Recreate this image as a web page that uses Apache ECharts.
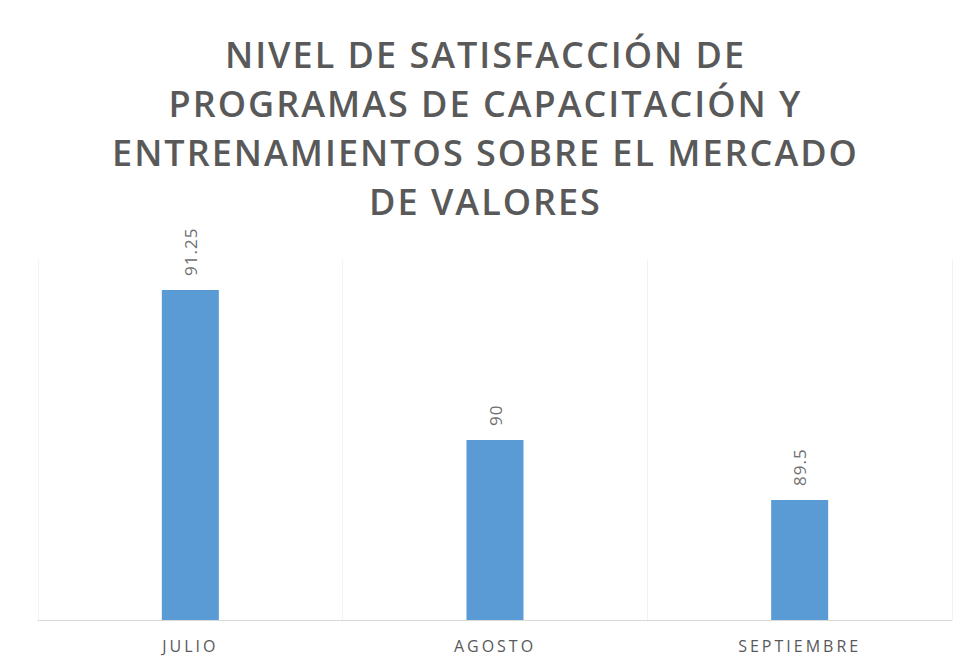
<!DOCTYPE html>
<html>
<head>
<meta charset="utf-8">
<script src="https://cdn.jsdelivr.net/npm/echarts@6/dist/echarts.min.js"></script>
<style>
html,body{margin:0;padding:0;background:#fff;}
#main{width:971px;height:671px;}
/* espaciado de letras como en el original */
#main text{letter-spacing:3px;}
#main text[style*="36px"]{letter-spacing:2px;}
#main text[style*="17px"]{letter-spacing:1px;}
</style>
</head>
<body>
<div id="main"></div>
<script>
// datos del gráfico
var meses = ['JULIO', 'AGOSTO', 'SEPTIEMBRE'];
var satisfaccion = [91.25, 90, 89.5];
var titulo = 'NIVEL DE SATISFACCIÓN DE\nPROGRAMAS DE CAPACITACIÓN Y\nENTRENAMIENTOS SOBRE EL MERCADO\nDE VALORES';

var myChart = echarts.init(document.getElementById('main'), null, {renderer: 'svg'});
var option = {
    backgroundColor: '#fff',
    title: {
        text: titulo,
        left: 'center',
        top: 25,
        textStyle: {
            fontFamily: 'Open Sans',
            fontWeight: 600,
            fontSize: 36,
            lineHeight: 49,
            color: '#595959'
        }
    },
    grid: {
        left: 38,
        right: 19,
        top: 260,
        bottom: 51
    },
    xAxis: {
        type: 'category',
        data: meses,
        axisLine: {lineStyle: {color: '#d9d9d9', width: 1}},
        axisTick: {show: false},
        axisLabel: {
            color: '#595959',
            fontFamily: 'Open Sans',
            fontSize: 16,
            margin: 18
        },
        splitLine: {show: true, lineStyle: {color: '#f2f2f2'}}
    },
    yAxis: {
        type: 'value',
        min: 88.5,
        max: 91.5,
        show: false
    },
    series: [{
        type: 'bar',
        data: satisfaccion,
        barWidth: 57,
        itemStyle: {color: '#5b9bd5'},
        label: {
            show: true,
            position: 'top',
            rotate: 90,
            align: 'left',
            verticalAlign: 'middle',
            distance: 14,
            color: '#707070',
            fontFamily: 'Open Sans',
            fontSize: 17
        }
    }]
};
myChart.setOption(option);
window.onresize = myChart.resize;
</script>
</body>
</html>
